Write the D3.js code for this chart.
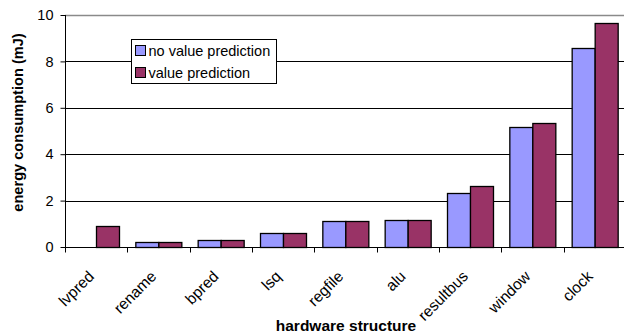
<!DOCTYPE html>
<html>
<head>
<meta charset="utf-8">
<script src="https://cdn.jsdelivr.net/npm/d3@7"></script>
<style>
  html, body { margin: 0; padding: 0; background: #fff; }
  svg { display: block; font-family: "Liberation Sans", Arial, sans-serif; }
</style>
</head>
<body>
<svg id="chart" width="624" height="335"></svg>
<script>
// Energy per hardware structure, with and without value prediction (mJ)
const categories = ["lvpred", "rename", "bpred", "lsq", "regfile", "alu", "resultbus", "window", "clock"];
const seriesNames = ["no value prediction", "value prediction"];
const noValuePrediction = [0, 0.2, 0.3, 0.6, 1.1, 1.16, 2.33, 5.19, 8.59];
const valuePrediction   = [0.9, 0.2, 0.3, 0.6, 1.12, 1.16, 2.63, 5.34, 9.66];
const seriesColors = ["#9999FF", "#993366"];
const yTicks = [0, 2, 4, 6, 8, 10];

const svg = d3.select("#chart");
const margin = { left: 65, top: 15, right: -2, bottom: 88 };
const W = 624, H = 335;
const x0 = margin.left, x1 = W - margin.right;
const yTop = margin.top, yBot = H - margin.bottom;

const x = d3.scaleBand().domain(categories).range([x0, x1]).paddingInner(0).paddingOuter(0);
const xs = d3.scaleBand().domain(seriesNames).range([0, x.bandwidth()]).paddingInner(0).paddingOuter(0.36);
const y = d3.scaleLinear().domain([0, 10]).range([yBot, yTop]);

// gridlines
svg.append("g").selectAll("line")
  .data(yTicks.filter(t => t > 0))
  .join("line")
  .attr("x1", x0).attr("x2", W)
  .attr("y1", d => Math.round(y(d)) + 0.5).attr("y2", d => Math.round(y(d)) + 0.5)
  .attr("stroke", d => d === 10 ? "#8a8a8a" : "#000")
  .attr("stroke-width", d => d === 10 ? 1.5 : 1);

// bars
const data = categories.map((c, i) => ({ c, vals: [noValuePrediction[i], valuePrediction[i]] }));
const groups = svg.append("g").selectAll("g").data(data).join("g")
  .attr("transform", d => `translate(${x(d.c)},0)`);
groups.selectAll("rect")
  .data(d => d.vals.map((v, k) => ({ v, k })).filter(e => e.v > 0))
  .join("rect")
  .attr("x", e => Math.round(xs(seriesNames[e.k])) + 0.5)
  .attr("width", Math.round(xs.bandwidth()))
  .attr("y", e => Math.round(y(e.v)) + 0.5)
  .attr("height", e => Math.round(y(0)) - Math.round(y(e.v)))
  .attr("fill", e => seriesColors[e.k])
  .attr("stroke", "#000").attr("stroke-width", 1.3);

// y axis
const yAxis = svg.append("g").attr("transform", `translate(${x0 + 0.5},0)`)
  .call(d3.axisLeft(y).tickValues(yTicks).tickSize(5).tickPadding(7).tickFormat(d3.format("d")));
yAxis.select(".domain").attr("stroke", "#000").attr("d", `M0,${yTop}V${Math.round(yBot) + 0.5}`);
yAxis.selectAll(".tick line").attr("stroke", "#000");
yAxis.selectAll("text").attr("font-size", 14.5).attr("fill", "#000").attr("font-family", "Liberation Sans, Arial, sans-serif");

// x axis
const xAxis = svg.append("g").attr("transform", `translate(0,${Math.round(yBot) + 0.5})`);
xAxis.append("line").attr("x1", x0).attr("x2", W).attr("stroke", "#000");
xAxis.selectAll(".xt").data(categories.map(c => x(c)).concat([x1]))
  .join("line").attr("class", "xt")
  .attr("x1", d => Math.round(d) + 0.5).attr("x2", d => Math.round(d) + 0.5)
  .attr("y1", 0).attr("y2", 5).attr("stroke", "#000");
xAxis.selectAll("text").data(categories).join("text")
  .attr("transform", d => `translate(${x(d) + x.bandwidth() / 2 - 5},${26}) rotate(-45)`)
  .attr("text-anchor", "end")
  .attr("font-size", 15.5)
  .attr("dy", "0.35em")
  .text(d => d);

// axis titles
svg.append("text")
  .attr("transform", `translate(23,122.5) rotate(-90)`)
  .attr("text-anchor", "middle").attr("font-size", 14.6).attr("font-weight", "bold")
  .text("energy consumption (mJ)");
svg.append("text")
  .attr("x", 346).attr("y", 331)
  .attr("text-anchor", "middle").attr("font-size", 15.5).attr("font-weight", "bold")
  .text("hardware structure");

// legend
const lg = svg.append("g").attr("transform", "translate(131.5,39.5)");
lg.append("rect").attr("width", 145).attr("height", 44).attr("fill", "#fff").attr("stroke", "#000");
seriesNames.forEach((s, i) => {
  const row = lg.append("g").attr("transform", `translate(4,${6 + i * 22})`);
  row.append("rect").attr("width", 10).attr("height", 10).attr("fill", seriesColors[i]).attr("stroke", "#000");
  row.append("text").attr("x", 13).attr("y", 5).attr("dy", "0.35em").attr("font-size", 14.5).text(s);
});
</script>
</body>
</html>
